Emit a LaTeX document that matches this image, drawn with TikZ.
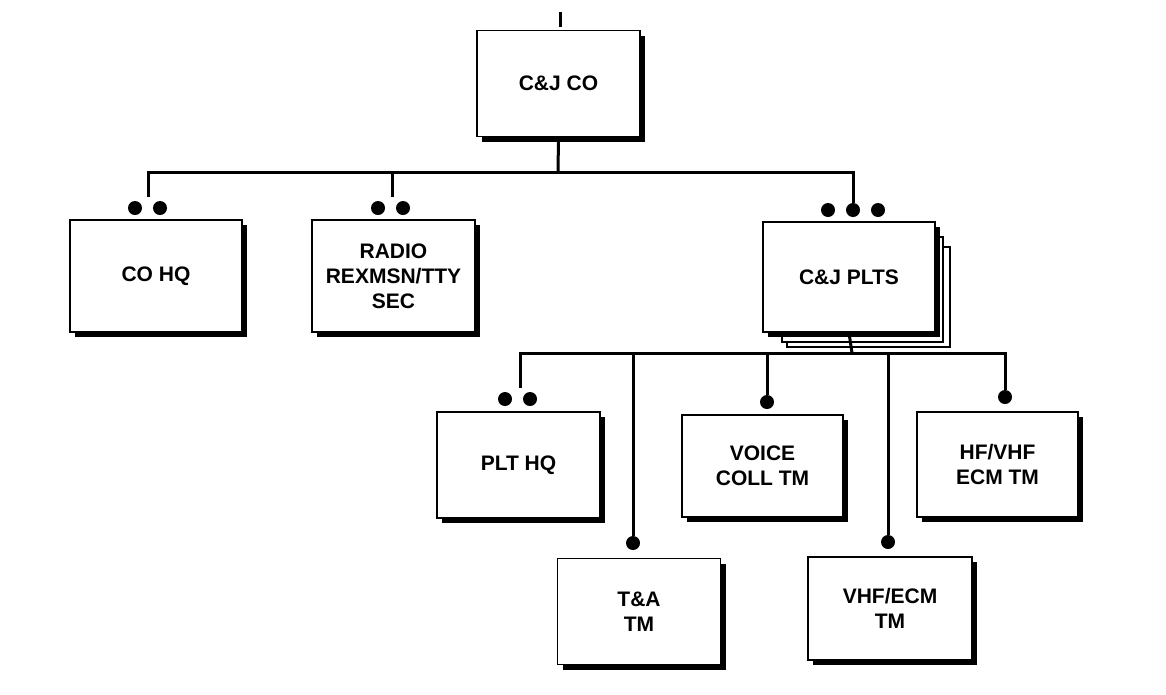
\documentclass[tikz,border=0pt]{standalone}
\usepackage{fontspec}
\setmainfont{Liberation Sans}
\usetikzlibrary{shadows}

\tikzset{
  unitbox/.style={draw, fill=white, line width=1.8pt, align=center,
    font=\fontsize{21}{25}\selectfont\bfseries,
    minimum width=163pt, minimum height=106pt,
    drop shadow={fill=black, opacity=1, shadow xshift=5pt, shadow yshift=-5pt}},
  page/.style={draw, fill=white, line width=1.2pt},
  conn/.style={line width=3pt},
  dot/.style={circle, fill=black, inner sep=0pt, minimum size=14pt}
}

\begin{document}
\begin{tikzpicture}[x=1pt,y=-1pt]
  \useasboundingbox[fill=white] (0,0) rectangle (1166,694);

  % company
  \node[unitbox] (co) at (558.5,83.5) {C\&J CO};
  \coordinate (upA) at (560,12);
  \coordinate (upB) at (560,27);
  \draw[line width=3pt] (upA) -- (upB);

  % first level
  \node[unitbox, minimum width=172pt, minimum height=112pt] (cohq) at (156,276) {CO HQ};
  \node[unitbox, minimum height=112pt] (radio) at (393.5,276) {RADIO\\REXMSN/TTY\\SEC};

  % platoons, stacked pages behind
  \draw[page] (787,247) rectangle (950,347);
  \draw[page] (782,237) rectangle (943,342);
  \node[unitbox, minimum width=172pt, minimum height=110pt] (plts) at (849,277) {C\&J PLTS};

  % second level
  \node[unitbox] (plthq) at (518.5,465) {PLT HQ};
  \node[unitbox, minimum width=161pt, minimum height=102pt] (voice) at (762.5,466) {VOICE\\COLL TM};
  \node[unitbox, minimum width=161pt, minimum height=105pt] (hfvhf) at (997.5,464.5) {HF/VHF\\ECM TM};
  \node[unitbox] (ta) at (639,611.5) {T\&A\\TM};
  \node[unitbox, minimum width=164pt, minimum height=103pt] (vhfecm) at (890,608.5) {VHF/ECM\\TM};

  % dots
  \node[dot] (cohq-d1) at (135,208) {};
  \node[dot] (cohq-d2) at (160,208) {};
  \node[dot] (radio-d1) at (378,208) {};
  \node[dot] (radio-d2) at (403,208) {};
  \node[dot] (plts-d1) at (828,210) {};
  \node[dot] (plts-d2) at (853,210) {};
  \node[dot] (plts-d3) at (878,210) {};
  \node[dot] (plthq-d1) at (505,399) {};
  \node[dot] (plthq-d2) at (530,399) {};
  \node[dot] (ta-d) at (633,543) {};
  \node[dot] (voice-d) at (767,402) {};
  \node[dot] (vhfecm-d) at (888,542) {};
  \node[dot] (hfvhf-d) at (1005,397) {};

  % bus ends
  \coordinate (busA) at (558,172);
  \coordinate (cohq-top) at (148,197);
  \coordinate (radio-top) at (392,197);
  \coordinate (busB) at (852,353);
  \coordinate (plthq-top) at (520,388);

  % connectors
  \draw[conn] (co.south) -- (busA);
  \draw[conn] (busA) -| (cohq-top);
  \draw[conn] (busA) -| (radio-top);
  \draw[conn] (busA) -| (plts-d2.north);
  \draw[conn] (plts.south) -- (busB);
  \draw[conn] (busB) -| (plthq-top);
  \draw[conn] (busB) -| (ta-d.north);
  \draw[conn] (busB) -| (voice-d.north);
  \draw[conn] (busB) -| (vhfecm-d.north);
  \draw[conn] (busB) -| (hfvhf-d.north);
\end{tikzpicture}
\end{document}
